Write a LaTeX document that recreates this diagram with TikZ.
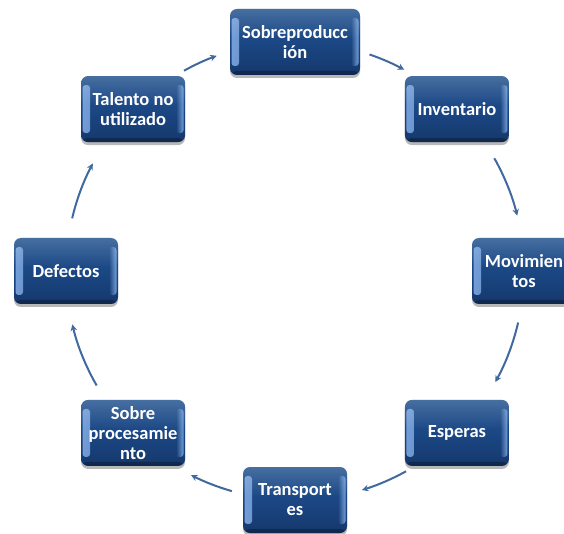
\documentclass[tikz,border=0pt]{standalone}
\usepackage{fontspec}
\setmainfont{Carlito}
\usetikzlibrary{shadows,fadings,calc,arrows.meta}

\definecolor{boxtop}{HTML}{23538F}
\definecolor{boxmid}{HTML}{1B4784}
\definecolor{boxbot}{HTML}{15386C}
\definecolor{edgehi}{HTML}{7FA9E2}
\definecolor{flowcol}{HTML}{41699F}

\tikzfading[name=faderight, left color=transparent!0, right color=transparent!100]
\tikzfading[name=fadeleft, left color=transparent!100, right color=transparent!0]
\tikzfading[name=fadedown, top color=transparent!0, bottom color=transparent!100]

\tikzset{
  wastebox/.style={
    rectangle, rounded corners=7pt,
    minimum width=104pt, minimum height=66pt, inner sep=0pt,
    text=white, align=center,
    font=\fontsize{18.5}{20}\selectfont\bfseries,
    top color=boxtop, bottom color=boxbot, middle color=boxmid,
    drop shadow={shadow xshift=0pt, shadow yshift=-3pt, opacity=.5, fill=black!55},
    path picture={
      % bevel highlights on the left and right edges
      \fill[edgehi, opacity=.9, path fading=faderight, rounded corners=3pt]
        ([xshift=1.5pt, yshift=9pt]path picture bounding box.south west) rectangle
        ([xshift=9pt, yshift=-9pt]path picture bounding box.north west);
      \fill[edgehi, opacity=.9, path fading=fadeleft, rounded corners=3pt]
        ([xshift=-9pt, yshift=9pt]path picture bounding box.south east) rectangle
        ([xshift=-1.5pt, yshift=-9pt]path picture bounding box.north east);
      % gloss on the upper part
      \fill[white, opacity=.16, path fading=fadedown]
        (path picture bounding box.north west) rectangle
        ($(path picture bounding box.north east)!0.45!(path picture bounding box.south east)$);
      % darker lower rim
      \fill[black, opacity=.28]
        (path picture bounding box.south west) rectangle
        ([yshift=4pt]path picture bounding box.south east);
    }
  },
  flow/.style={draw=flowcol, line width=2pt, -{Stealth[length=6.5pt,width=6.5pt]}},
}

\begin{document}
\begin{tikzpicture}[x=1pt,y=1pt]
  \clip (0,0) rectangle (564,533);
  \fill[white] (0,0) rectangle (564,533);

  \coordinate (ctr) at (295,262);

  \node[wastebox, minimum width=130pt] (sobreprod) at ($(ctr)+(90:229pt)$) {Sobreproducc\\ión};
  \node[wastebox] (inventario) at ($(ctr)+(45:229pt)$) {Inventario};
  \node[wastebox] (movimientos) at ($(ctr)+(0:229pt)$) {Movimien\\tos};
  \node[wastebox] (esperas) at ($(ctr)+(-45:229pt)$) {Esperas};
  \node[wastebox] (transportes) at ($(ctr)+(-90:229pt)$) {Transport\\es};
  \node[wastebox] (sobreproc) at ($(ctr)+(-135:229pt)$) {Sobre\\procesamie\\nto};
  \node[wastebox] (defectos) at ($(ctr)+(180:229pt)$) {Defectos};
  \node[wastebox] (talento) at ($(ctr)+(135:229pt)$) {Talento no\\utilizado};

  % clockwise cycle arrows along the ring
  \draw[flow] (ctr) ++(119:229pt) arc[start angle=119, end angle=110, radius=229pt];
  \draw[flow] (ctr) ++(71:229pt) arc[start angle=71, end angle=61.5, radius=229pt];
  \draw[flow] (ctr) ++(29.5:229pt) arc[start angle=29.5, end angle=14, radius=229pt];
  \draw[flow] (ctr) ++(-13:229pt) arc[start angle=-13, end angle=-29, radius=229pt];
  \draw[flow] (ctr) ++(-61:229pt) arc[start angle=-61, end angle=-73, radius=229pt];
  \draw[flow] (ctr) ++(-106:229pt) arc[start angle=-106, end angle=-117, radius=229pt];
  \draw[flow] (ctr) ++(-150:229pt) arc[start angle=-150, end angle=-166.5, radius=229pt];
  \draw[flow] (ctr) ++(166.7:229pt) arc[start angle=166.7, end angle=152, radius=229pt];
\end{tikzpicture}
\end{document}
